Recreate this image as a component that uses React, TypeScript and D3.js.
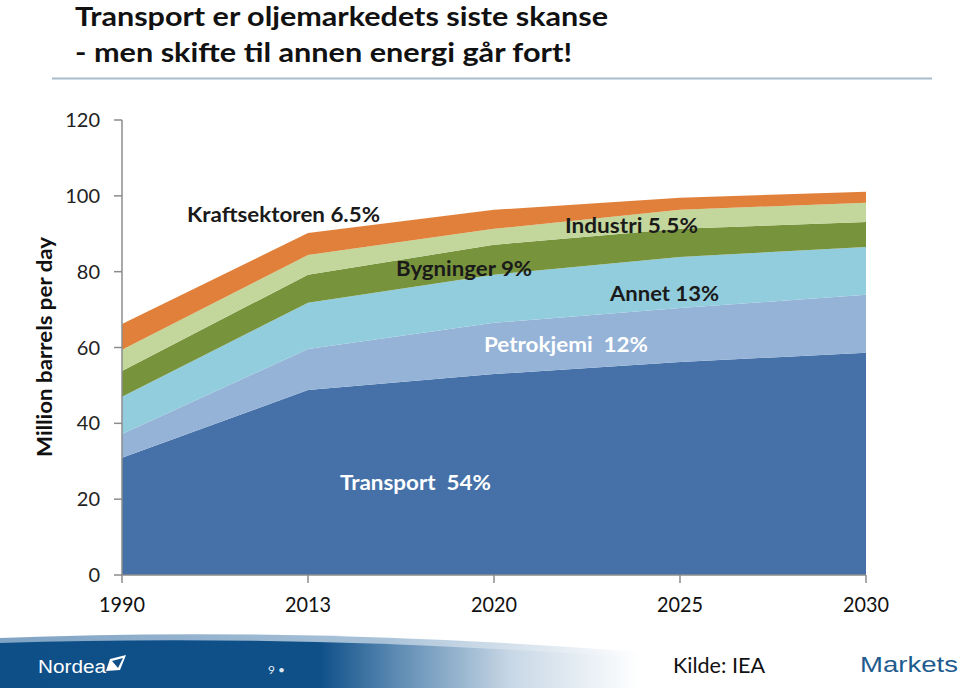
import React from "react";
import * as d3 from "d3";

const years = ["1990", "2013", "2020", "2025", "2030"];
const transport = [30.9, 48.8, 53.0, 56.2, 58.6];
const petrokjemi = [6.3, 10.8, 13.5, 14.2, 15.3];
const annet = [9.8, 12.2, 12.7, 13.5, 12.6];
const bygninger = [6.8, 7.4, 7.9, 7.4, 6.6];
const industri = [5.6, 5.2, 4.2, 5.0, 5.1];
const kraft = [6.8, 5.8, 5.0, 3.2, 2.9];
const seriesKeys = ["Transport", "Petrokjemi", "Annet", "Bygninger", "Industri", "Kraftsektoren"];
const seriesColors = ["#4571a8", "#95b3d7", "#92cddd", "#77933c", "#c3d69b", "#e0803a"];
const yTicks = [0, 20, 40, 60, 80, 100, 120];

const labels = [
  { text: "Kraftsektoren 6.5%", x: 187, y: 222, w: 193, fill: "#1a1a1a" },
  { text: "Bygninger 9%", x: 396, y: 276, w: 136, fill: "#1a1a1a" },
  { text: "Industri 5.5%", x: 565, y: 233, w: 133, fill: "#1a1a1a" },
  { text: "Annet 13%", x: 610, y: 301, w: 109, fill: "#1a1a1a" },
  { text: "Petrokjemi  12%", x: 484, y: 352, w: 164, fill: "#ffffff" },
  { text: "Transport  54%", x: 340, y: 490, w: 151, fill: "#ffffff" },
];

export default function App() {
  const font = "Lato, 'Open Sans', sans-serif";
  const x = d3.scalePoint<string>().domain(years).range([122, 866]);
  const y = d3.scaleLinear().domain([0, 120]).range([575, 120]);

  const table = years.map((yr, i) => ({
    year: yr,
    Transport: transport[i],
    Petrokjemi: petrokjemi[i],
    Annet: annet[i],
    Bygninger: bygninger[i],
    Industri: industri[i],
    Kraftsektoren: kraft[i],
  }));
  const stacked = d3.stack<any>().keys(seriesKeys)(table);
  const area = d3
    .area<any>()
    .x((d) => x(d.data.year) as number)
    .y0((d) => y(d[0]))
    .y1((d) => y(d[1]));

  return (
    <svg width={960} height={688} style={{ position: "absolute", left: 0, top: 0, background: "#fff" }}>
      <defs>
        <linearGradient id="band" x1="0" x2="1" y1="0" y2="0">
          <stop offset="0" stopColor="#0e4f88" />
          <stop offset="0.5" stopColor="#0f5089" />
          <stop offset="0.62" stopColor="#5d8bb3" />
          <stop offset="0.8" stopColor="#c9d8e6" />
          <stop offset="1" stopColor="#ffffff" />
        </linearGradient>
        <linearGradient id="hl" x1="0" x2="1" y1="0" y2="0">
          <stop offset="0" stopColor="#7fa3c4" />
          <stop offset="0.6" stopColor="#a9c2d8" />
          <stop offset="1" stopColor="#ffffff" />
        </linearGradient>
      </defs>

      {/* Title */}
      <text x={75} y={26} fontFamily={font} fontWeight={700} fontSize={26} fill="#111" textLength={533} lengthAdjust="spacingAndGlyphs">
        Transport er oljemarkedets siste skanse
      </text>
      <text x={75} y={62} fontFamily={font} fontWeight={700} fontSize={26} fill="#111" textLength={497} lengthAdjust="spacingAndGlyphs">
        - men skifte til annen energi går fort!
      </text>
      <line x1={52} x2={932} y1={78.5} y2={78.5} stroke="#a8bccc" strokeWidth={2} />

      {/* Areas */}
      {stacked.map((s, i) => (
        <path key={s.key} d={area(s) || ""} fill={seriesColors[i]} />
      ))}

      {/* Y axis */}
      <line x1={122} x2={122} y1={120} y2={575} stroke="#8c8c8c" strokeWidth={1.5} />
      {yTicks.map((t) => (
        <g key={t}>
          <line x1={114} x2={122} y1={y(t)} y2={y(t)} stroke="#8c8c8c" strokeWidth={1.5} />
          <text x={100} y={y(t) + 7} textAnchor="end" fontFamily={font} fontSize={20} fill="#222">
            {t}
          </text>
        </g>
      ))}

      {/* X axis */}
      <line x1={122} x2={866} y1={575} y2={575} stroke="#8c8c8c" strokeWidth={1.5} />
      {years.map((yr) => (
        <g key={yr}>
          <line x1={x(yr)} x2={x(yr)} y1={575} y2={583} stroke="#8c8c8c" strokeWidth={1.5} />
          <text x={x(yr)} y={612} textAnchor="middle" fontFamily={font} fontSize={21} fill="#111" textLength={46} lengthAdjust="spacingAndGlyphs">
            {yr}
          </text>
        </g>
      ))}

      {/* Y axis title */}
      <text
        transform="translate(52,347) rotate(-90)"
        textAnchor="middle"
        fontFamily={font}
        fontWeight={700}
        fontSize={20}
        fill="#111"
        textLength={220}
        lengthAdjust="spacingAndGlyphs"
      >
        Million barrels per day
      </text>

      {/* Series labels */}
      {labels.map((l) => (
        <text key={l.text} x={l.x} y={l.y} fontFamily={font} fontWeight={700} fontSize={20} fill={l.fill} textLength={l.w} lengthAdjust="spacingAndGlyphs" style={{ whiteSpace: "pre" }}>
          {l.text}
        </text>
      ))}

      {/* Footer band */}
      <path d="M0,638 Q300,626 640,652 L640,688 L0,688 Z" fill="url(#hl)" />
      <path d="M0,643 Q300,633 640,658 L640,688 L0,688 Z" fill="url(#band)" />
      <text x={38} y={673} fontFamily="'Liberation Sans', Arial, sans-serif" fontSize={18} fill="#fff" textLength={68} lengthAdjust="spacingAndGlyphs">
        Nordea
      </text>
      <path d="M110,659 L126,655 L120,670 L106,671 Z" fill="#fff" />
      <path d="M112,661 L123,658 L118,668 Z" fill="#0e4f88" />
      <text x={268} y={674} fontFamily={font} fontSize={12} fill="#dfe8f0">
        9 •
      </text>
      <text x={673} y={673} fontFamily={font} fontSize={21} fill="#111" textLength={92} lengthAdjust="spacingAndGlyphs">
        Kilde: IEA
      </text>
      <text x={860} y={672} fontFamily="'Liberation Sans', Arial, sans-serif" fontSize={22} fill="#1e5b8e" textLength={98} lengthAdjust="spacingAndGlyphs">
        Markets
      </text>
    </svg>
  );
}
